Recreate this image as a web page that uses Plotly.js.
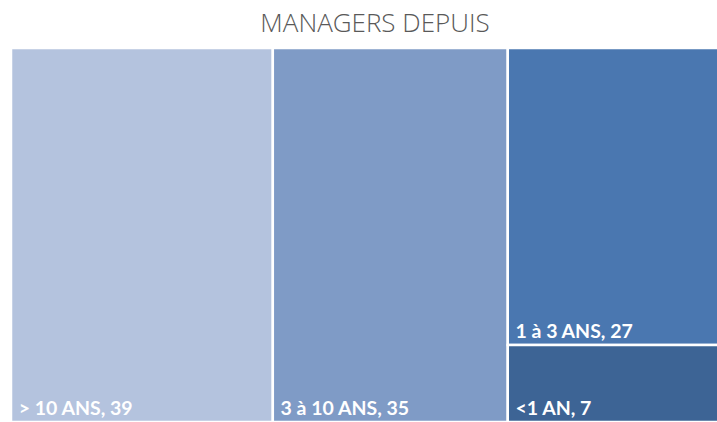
<!DOCTYPE html>
<html>
<head>
<meta charset="utf-8">
<script src="https://cdn.plot.ly/plotly-3.0.1.min.js"></script>
<style>html,body{margin:0;padding:0;background:#fff;overflow:hidden}#chart{width:736px;height:422px}</style>
</head>
<body>
<div id="chart"></div>
<script>
var labels = ["> 10 ANS", "3 à 10 ANS", "1 à 3 ANS", "<1 AN"];
var values = [39, 35, 27, 7];
var colors = ["#B4C3DE", "#7F9BC6", "#4A77B0", "#3D6495"];
var parents = labels.map(function(){ return ""; });

var trace = {
  type: "treemap",
  labels: labels,
  parents: parents,
  values: values,
  branchvalues: "total",
  sort: true,
  texttemplate: "\u00A0%{label}, %{value}",
  textposition: "bottom left",
  textfont: {family: "Lato, 'Open Sans', sans-serif", size: 19.5, color: "#FFFFFF", weight: "bold"},
  marker: {colors: colors, line: {color: "#FFFFFF", width: 2.5}, pad: {t: 0, l: 0, r: 0, b: 0}},
  tiling: {packing: "squarify", squarifyratio: 1, pad: 0},
  pathbar: {visible: false},
  root: {color: "#FFFFFF"},
  hoverinfo: "none",
  domain: {x: [0, 1], y: [0, 1]}
};

var layout = {
  width: 736,
  height: 422,
  margin: {l: 11, r: 0, t: 48, b: 0},
  paper_bgcolor: "#FFFFFF",
  title: {
    text: "MANAGERS DEPUIS",
    font: {family: "'Open Sans', sans-serif", size: 26, color: "#595959", weight: 300},
    x: 375 / 736, xanchor: "center", y: 0.945, yanchor: "middle"
  },
  showlegend: false
};

Plotly.newPlot("chart", [trace], layout, {displayModeBar: false, staticPlot: true});
</script>
</body>
</html>
